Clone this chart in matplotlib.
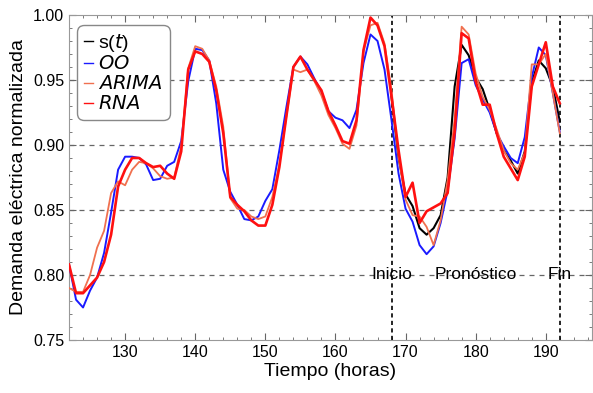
import matplotlib
matplotlib.use("Agg")
import matplotlib.pyplot as plt
from matplotlib.ticker import MultipleLocator

plt.rcParams['font.family'] = ['Liberation Sans', 'DejaVu Sans']

# horas 122..192
horas = list(range(122, 193))

oo = [0.808, 0.781, 0.775, 0.788, 0.798, 0.817, 0.848, 0.881, 0.891, 0.891,
      0.890, 0.885, 0.873, 0.874, 0.884, 0.887, 0.903, 0.949, 0.974, 0.973,
      0.965, 0.932, 0.881, 0.864, 0.854, 0.843, 0.842, 0.845, 0.857, 0.866,
      0.896, 0.929, 0.960, 0.968, 0.962, 0.951, 0.941, 0.926, 0.921, 0.919,
      0.913, 0.927, 0.963, 0.985, 0.980, 0.958, 0.919, 0.878, 0.851, 0.841,
      0.823, 0.816, 0.822, 0.840, 0.865, 0.905, 0.963, 0.966, 0.946, 0.935,
      0.925, 0.909, 0.899, 0.890, 0.886, 0.906, 0.952, 0.975, 0.969, 0.940,
      0.910]

arima = [0.808, 0.786, 0.786, 0.792, 0.798, 0.810, 0.831, 0.868, 0.881, 0.890,
         0.890, 0.886, 0.883, 0.884, 0.878, 0.874, 0.895, 0.958, 0.972, 0.970,
         0.964, 0.942, 0.909, 0.860, 0.854, 0.849, 0.842, 0.838, 0.838, 0.854,
         0.883, 0.922, 0.960, 0.968, 0.958, 0.950, 0.942, 0.926, 0.915, 0.903,
         0.901, 0.919, 0.973, 0.998, 0.992, 0.976, 0.937, 0.896, 0.860, 0.871,
         0.840, 0.849, 0.852, 0.855, 0.863, 0.910, 0.986, 0.982, 0.949, 0.931,
         0.931, 0.909, 0.891, 0.882, 0.873, 0.891, 0.945, 0.962, 0.979, 0.945,
         0.932]

rna = [0.790, 0.787, 0.787, 0.800, 0.821, 0.834, 0.863, 0.872, 0.869, 0.881,
       0.887, 0.886, 0.882, 0.876, 0.874, 0.875, 0.899, 0.959, 0.976, 0.974,
       0.965, 0.945, 0.914, 0.859, 0.851, 0.850, 0.845, 0.843, 0.845, 0.860,
       0.885, 0.922, 0.958, 0.956, 0.958, 0.949, 0.938, 0.923, 0.913, 0.901,
       0.897, 0.915, 0.972, 0.992, 0.994, 0.978, 0.942, 0.891, 0.858, 0.846,
       0.845, 0.837, 0.823, 0.842, 0.873, 0.920, 0.991, 0.985, 0.955, 0.937,
       0.927, 0.912, 0.896, 0.886, 0.881, 0.894, 0.962, 0.962, 0.970, 0.940,
       0.909]

# serie real en la ventana de pronostico
horas_s = list(range(168, 193))
s_t = [0.937, 0.890, 0.862, 0.853, 0.836, 0.831, 0.836, 0.846, 0.875, 0.945,
       0.977, 0.969, 0.952, 0.943, 0.927, 0.909, 0.896, 0.888, 0.878, 0.895,
       0.948, 0.965, 0.959, 0.945, 0.918]

marcas = [(168, 'Inicio'), (180, 'Pronóstico'), (192, 'Fin')]

fig = plt.figure(figsize=(5.93, 3.93), dpi=100)
ax = fig.add_axes([0.1164, 0.1349, 0.882, 0.827])

ax.plot(horas_s, s_t, color='black', lw=1.5, label='s($t$)', zorder=3)
ax.plot(horas, oo, color='#1a1aff', lw=1.4, label='$OO$', zorder=4)
ax.plot(horas, rna, color='#f0704f', lw=1.3, label='$ARIMA$', zorder=5)
ax.plot(horas, arima, color='#ff1010', lw=1.9, label='$RNA$', zorder=6)

# lineas de referencia
for y in [0.80, 0.85, 0.90, 0.95]:
    ax.axhline(y, color='#666666', lw=0.9, ls=(0, (4, 4)), zorder=1)
for x in [168, 192]:
    ax.axvline(x, color='black', lw=1.2, ls=(0, (2.5, 2)), zorder=2)
for x, txt in marcas:
    ax.text(x, 0.80, txt, ha='center', va='center', fontsize=12.5, zorder=7)

ax.set_xlim(122, 196.6)
ax.set_ylim(0.75, 1.00)
ax.xaxis.set_major_locator(MultipleLocator(10))
ax.xaxis.set_minor_locator(MultipleLocator(2))
ax.yaxis.set_major_locator(MultipleLocator(0.05))
ax.yaxis.set_minor_locator(MultipleLocator(0.01))
ax.yaxis.set_major_formatter(plt.FuncFormatter(lambda v, p: f'{v:.2f}'))
ax.tick_params(which='both', direction='in', top=True, right=True,
               color='#666666', labelsize=11.5)
ax.tick_params(which='major', length=5)
ax.tick_params(which='minor', length=2.5)
for sp in ax.spines.values():
    sp.set_color('#999999')

ax.set_xlabel('Tiempo (horas)', fontsize=14, labelpad=2)
ax.set_ylabel('Demanda eléctrica normalizada', fontsize=14, labelpad=4)

leg = ax.legend(loc='upper left', bbox_to_anchor=(0.004, 0.988), fontsize=14,
                handlelength=0.5, handletextpad=0.25, labelspacing=0.1,
                borderpad=0.35, borderaxespad=0.3, fancybox=True,
                framealpha=1, edgecolor='#888888')
leg.get_frame().set_boxstyle('round', pad=0, rounding_size=0.35)
for h in leg.get_lines():
    h.set_linewidth(1.0)

fig.savefig('out.png', dpi=100)
